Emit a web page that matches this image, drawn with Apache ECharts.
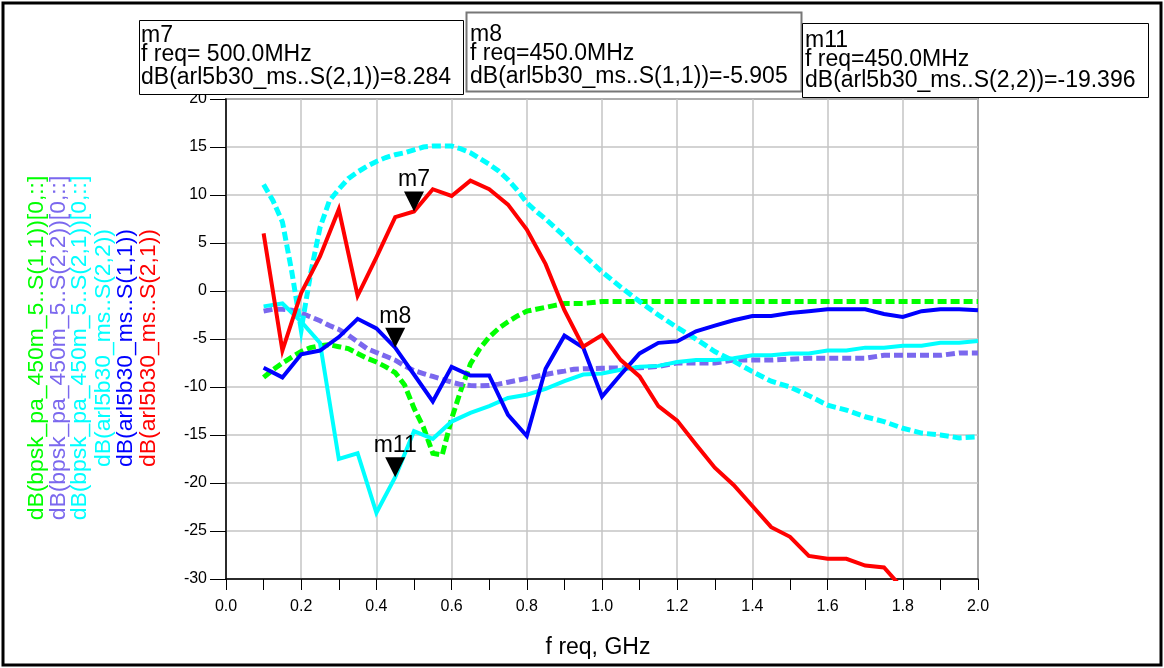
<!DOCTYPE html>
<html>
<head>
<meta charset="utf-8">
<script src="https://cdn.jsdelivr.net/npm/echarts@6/dist/echarts.min.js"></script>
<style>
  html, body { margin: 0; padding: 0; background: #fff; }
  #chart { width: 1164px; height: 668px; }
</style>
</head>
<body>
<div id="chart"></div>
<script>
// Frequency sweep (GHz) of the arl5b30_ms measurement
const arlFreq = [0.10, 0.15, 0.20, 0.25, 0.30, 0.35, 0.40, 0.45, 0.50, 0.55,
                 0.60, 0.65, 0.70, 0.75, 0.80, 0.85, 0.90, 0.95, 1.00, 1.05,
                 1.10, 1.15, 1.20, 1.25, 1.30, 1.35, 1.40, 1.45, 1.50, 1.55,
                 1.60, 1.65, 1.70, 1.75, 1.80, 1.85, 1.90, 1.95, 2.00];

// dB(arl5b30_ms..S(2,1))
const arlS21 = [6.0, -6.2, -0.2, 3.6, 8.5, -0.5, 3.5, 7.7, 8.284, 10.6,
                9.9, 11.5, 10.6, 9.0, 6.4, 2.8, -2.0, -5.8, -4.6, -7.2,
                -8.9, -12.0, -13.5, -16.0, -18.4, -20.2, -22.4, -24.6, -25.6, -27.6,
                -27.9, -27.9, -28.6, -28.8, -31.0];

// dB(arl5b30_ms..S(1,1))
const arlS11 = [-8.0, -9.0, -6.6, -6.2, -4.8, -2.9, -3.9, -5.905, -8.7, -11.5,
                -7.9, -8.8, -8.8, -12.9, -15.1, -8.1, -4.65, -5.9, -11.0, -8.7,
                -6.5, -5.4, -5.25, -4.2, -3.6, -3.05, -2.6, -2.6, -2.3, -2.1,
                -1.9, -1.9, -1.9, -2.4, -2.7, -2.1, -1.9, -1.9, -2.0];

// dB(arl5b30_ms..S(2,2))
const arlS22 = [-1.6, -1.3, -3.2, -5.4, -17.5, -16.9, -23.1, -19.396, -14.6, -15.4,
                -13.6, -12.7, -12.0, -11.15, -10.8, -10.2, -9.4, -8.7, -8.6, -8.2,
                -7.9, -7.8, -7.4, -7.2, -7.2, -7.0, -6.7, -6.7, -6.5, -6.5,
                -6.2, -6.2, -5.9, -5.9, -5.7, -5.7, -5.4, -5.4, -5.2];

// Frequency sweep (GHz) of the bpsk_pa_450m_5 simulation
const bpskFreq = [0.100, 0.125, 0.150, 0.175, 0.200, 0.225, 0.250, 0.275, 0.300, 0.325,
                  0.350, 0.375, 0.400, 0.425, 0.450, 0.475, 0.500, 0.525, 0.550, 0.575,
                  0.600, 0.625, 0.650, 0.675, 0.700, 0.725, 0.750, 0.775, 0.800, 0.825,
                  0.850, 0.875, 0.900, 0.925, 0.950, 0.975, 1.000, 1.05, 1.10, 1.15,
                  1.20, 1.25, 1.30, 1.35, 1.40, 1.45, 1.50, 1.55, 1.60, 1.65,
                  1.70, 1.75, 1.80, 1.85, 1.90, 1.95, 2.00];

// dB(bpsk_pa_450m_5..S(1,1))[0,::]
const bpskS11 = [-9.0, -8.2, -7.5, -6.9, -6.3, -5.9, -5.7, -5.6, -5.8, -6.0,
                 -6.5, -7.0, -7.4, -7.9, -8.5, -9.8, -12.2, -14.2, -16.9, -17.1,
                 -13.3, -10.3, -7.6, -6.0, -4.8, -3.9, -3.2, -2.6, -2.1, -1.9,
                 -1.7, -1.5, -1.3, -1.3, -1.3, -1.2, -1.1, -1.1, -1.1, -1.1,
                 -1.1, -1.1, -1.1, -1.1, -1.1, -1.1, -1.1, -1.1, -1.1, -1.1,
                 -1.1, -1.1, -1.1, -1.1, -1.1, -1.1, -1.1];

// dB(bpsk_pa_450m_5..S(2,2))[0,::]
const bpskS22 = [-2.1, -1.9, -1.9, -2.0, -2.3, -2.7, -3.1, -3.6, -4.0, -4.6,
                 -5.3, -6.0, -6.4, -6.8, -7.2, -7.8, -8.3, -8.6, -8.9, -9.2,
                 -9.5, -9.75, -9.85, -9.87, -9.85, -9.7, -9.5, -9.3, -9.1, -8.9,
                 -8.7, -8.5, -8.35, -8.15, -8.1, -8.1, -8.05, -8.0, -8.0, -7.85,
                 -7.5, -7.5, -7.5, -7.2, -7.2, -7.2, -7.1, -7.0, -7.0, -7.0,
                 -7.0, -6.7, -6.7, -6.7, -6.7, -6.45, -6.45];

// dB(bpsk_pa_450m_5..S(2,1))[0,::]
const bpskS21 = [11.1, 9.4, 7.2, 2.0, -4.0, 1.8, 6.6, 9.4, 10.6, 11.7,
                 12.4, 13.0, 13.5, 13.9, 14.2, 14.4, 14.7, 15.0, 15.1, 15.1,
                 15.1, 14.8, 14.4, 13.8, 13.2, 12.5, 11.6, 10.5, 9.2, 8.3,
                 7.5, 6.6, 5.7, 4.7, 3.8, 2.9, 2.0, 0.4, -1.1, -2.5,
                 -3.8, -5.0, -6.3, -7.3, -8.4, -9.4, -10.0, -10.9, -11.9, -12.4,
                 -13.1, -13.6, -14.3, -14.8, -15.0, -15.3, -15.2];

// Axis ticks
const xTicks = [0.0, 2.0, 0.2];   // min, max, step
const yTicks = [-30, 20, 5];      // min, max, step

const FONT = '"Liberation Sans", Arial, Helvetica, sans-serif';

function pairs(freq, vals) {
  const out = [];
  for (let i = 0; i < vals.length; i++) out.push([freq[i], vals[i]]);
  return out;
}

// Trace definitions, listed in the order of the vertical y-axis legend
const traces = [
  { name: 'dB(bpsk_pa_450m_5..S(1,1))[0,::]', color: '#00ff00', freq: bpskFreq, vals: bpskS11, dashed: true },
  { name: 'dB(bpsk_pa_450m_5..S(2,2))[0,::]', color: '#7b68ee', freq: bpskFreq, vals: bpskS22, dashed: true },
  { name: 'dB(bpsk_pa_450m_5..S(2,1))[0,::]', color: '#00ffff', freq: bpskFreq, vals: bpskS21, dashed: true },
  { name: 'dB(arl5b30_ms..S(2,2))', color: '#00ffff', freq: arlFreq, vals: arlS22, dashed: false },
  { name: 'dB(arl5b30_ms..S(1,1))', color: '#0000ff', freq: arlFreq, vals: arlS11, dashed: false },
  { name: 'dB(arl5b30_ms..S(2,1))', color: '#ff0000', freq: arlFreq, vals: arlS21, dashed: false }
];

// Markers placed on the arl5b30 traces
const markers = [
  { id: 'm7',  freq: 0.50, vals: arlS21, trace: 'S(2,1)', eq: '= ',
    box: { x: 139.5, y: 20.5, w: 324, h: 74, stroke: '#000', lw: 1, tx: 141, ty: [36, 55, 78] } },
  { id: 'm8',  freq: 0.45, vals: arlS11, trace: 'S(1,1)', eq: '=',
    box: { x: 466.5, y: 12.5, w: 335, h: 79, stroke: '#777', lw: 2, tx: 470, ty: [35, 54, 77] } },
  { id: 'm11', freq: 0.45, vals: arlS22, trace: 'S(2,2)', eq: '=',
    box: { x: 802.5, y: 23.5, w: 346, h: 74, stroke: '#000', lw: 1, tx: 805, ty: [41, 60, 81] } }
];

const series = traces.map(function (t) {
  return {
    type: 'line',
    name: t.name,
    data: pairs(t.freq, t.vals),
    showSymbol: false,
    clip: true,
    silent: true,
    animation: false,
    lineStyle: {
      color: t.color,
      width: t.dashed ? 5 : 4,
      type: t.dashed ? [9, 4] : 'solid',
      cap: 'butt',
      join: 'miter'
    },
    z: 3
  };
});

// Marker triangles with their labels
series.push({
  type: 'scatter',
  data: markers.map(function (m) {
    const i = arlFreq.indexOf(m.freq);
    return { value: [m.freq, m.vals[i]], name: m.id };
  }),
  symbol: 'path://M0,0 L20,0 L10,20 Z',
  symbolSize: 20,
  symbolOffset: [0, -10],
  itemStyle: { color: '#000', opacity: 1 },
  label: {
    show: true,
    position: 'top',
    distance: 0,
    formatter: '{b}',
    color: '#000',
    opacity: 1,
    fontSize: 23,
    fontFamily: FONT
  },
  emphasis: { disabled: true },
  silent: true,
  animation: false,
  z: 10
});

const graphic = [];

// Vertical legend standing in for the y-axis title
const legendX = [37, 58.5, 80, 103.5, 125.5, 148.5];
traces.forEach(function (t, k) {
  graphic.push({
    type: 'text',
    x: legendX[k],
    y: 348,
    rotation: Math.PI / 2,
    scaleX: 1.04,
    silent: true,
    style: {
      text: t.name,
      fill: t.color,
      font: '22px ' + FONT,
      textAlign: 'center',
      textVerticalAlign: 'middle'
    }
  });
});

// Marker readout boxes
markers.forEach(function (m) {
  const i = arlFreq.indexOf(m.freq);
  const v = m.vals[i];
  const b = m.box;
  graphic.push({
    type: 'rect',
    silent: true,
    shape: { x: b.x, y: b.y, width: b.w, height: b.h },
    style: { fill: '#fff', stroke: b.stroke, lineWidth: b.lw },
    z: 20
  });
  const lines = [
    m.id,
    'f req' + m.eq + (m.freq * 1000).toFixed(1) + 'MHz',
    'dB(arl5b30_ms..' + m.trace + ')=' + v.toFixed(3)
  ];
  lines.forEach(function (txt, k) {
    graphic.push({
      type: 'text',
      silent: true,
      x: b.tx,
      y: b.ty[k],
      style: {
        text: txt,
        fill: '#000',
        font: '23px ' + FONT,
        textAlign: 'left',
        textVerticalAlign: 'middle'
      },
      z: 21
    });
  });
});

// X-axis title
graphic.push({
  type: 'text',
  silent: true,
  x: 598,
  y: 648,
  style: {
    text: 'f req, GHz',
    fill: '#000',
    font: '23px ' + FONT,
    textAlign: 'center',
    textVerticalAlign: 'middle'
  }
});

// Outer frame
graphic.push({
  type: 'rect',
  silent: true,
  shape: { x: 3, y: 3, width: 1158, height: 662 },
  style: { fill: 'none', stroke: '#000', lineWidth: 3 },
  z: 30
});

const chart = echarts.init(document.getElementById('chart'), null, { renderer: 'canvas' });
chart.setOption({
  backgroundColor: '#fff',
  animation: false,
  grid: {
    left: 226, right: 186, top: 99, bottom: 89,
    show: true,
    borderColor: '#333',
    borderWidth: 1.5,
    backgroundColor: 'transparent'
  },
  xAxis: {
    type: 'value',
    min: xTicks[0], max: xTicks[1], interval: xTicks[2],
    axisLine: { show: true, onZero: false, lineStyle: { color: '#000', width: 1.5 } },
    axisTick: { show: true, inside: false, length: 11, lineStyle: { color: '#000', width: 1 } },
    minorTick: { show: true, splitNumber: 2, length: 11, lineStyle: { color: '#000', width: 1 } },
    splitLine: { show: true, lineStyle: { color: '#c4c4c4', width: 1.5 } },
    axisLabel: {
      color: '#000', fontSize: 16, fontFamily: FONT, margin: 20,
      formatter: function (v) { return v.toFixed(1); }
    }
  },
  yAxis: {
    type: 'value',
    min: yTicks[0], max: yTicks[1], interval: yTicks[2],
    axisLine: { show: true, onZero: false, lineStyle: { color: '#000', width: 1.5 } },
    axisTick: { show: true, inside: false, length: 16, lineStyle: { color: '#000', width: 1 } },
    splitLine: { show: true, lineStyle: { color: '#c4c4c4', width: 1.5 } },
    axisLabel: {
      color: '#000', fontSize: 16, fontFamily: FONT, margin: 19,
      formatter: function (v) { return String(v); }
    }
  },
  series: series,
  graphic: graphic
});
</script>
</body>
</html>
